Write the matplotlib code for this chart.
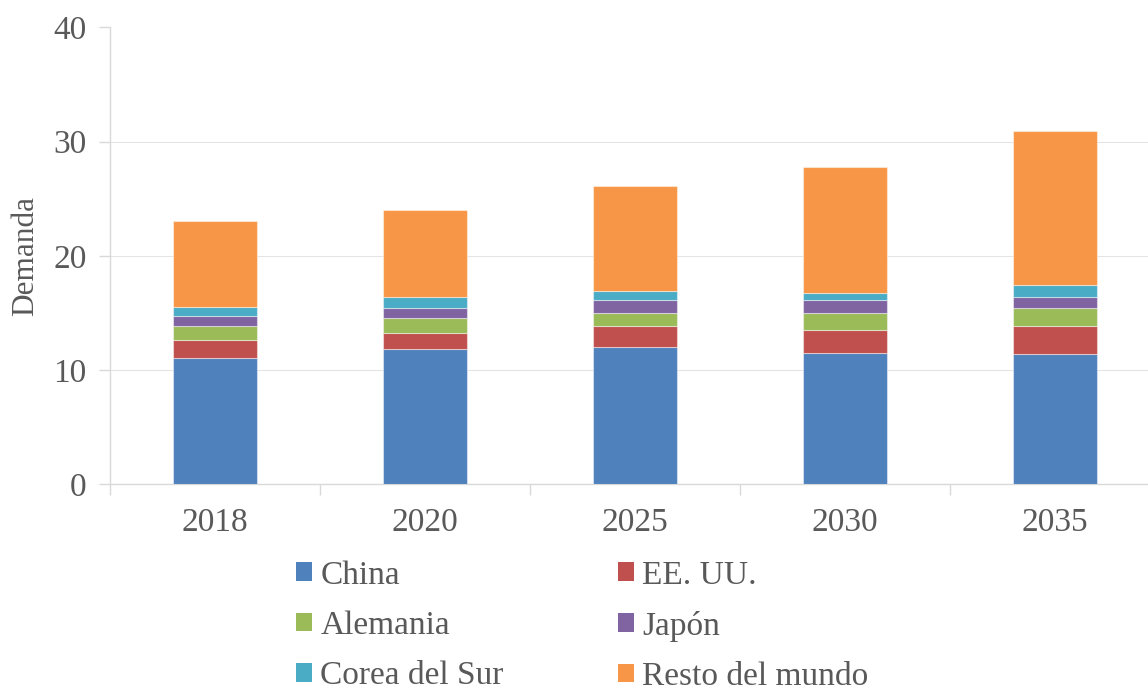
import numpy as np
import matplotlib
matplotlib.use("Agg")
import matplotlib.pyplot as plt
from matplotlib.patches import Patch

# Demand by region and year
years = ["2018", "2020", "2025", "2030", "2035"]
china = [11.0, 11.8, 12.0, 11.45, 11.4]
usa = [1.6, 1.45, 1.85, 2.05, 2.45]
germany = [1.25, 1.3, 1.15, 1.5, 1.6]
japan = [0.85, 0.85, 1.1, 1.1, 0.95]
korea = [0.85, 1.0, 0.8, 0.6, 1.05]
rest = [7.5, 7.6, 9.2, 11.05, 13.5]

series = [
    ("China", china, "#4F81BD"),
    ("EE. UU.", usa, "#C0504D"),
    ("Alemania", germany, "#9BBB59"),
    ("Japón", japan, "#8064A2"),
    ("Corea del Sur", korea, "#4BACC6"),
    ("Resto del mundo", rest, "#F79646"),
]

text_color = "#595959"
line_color = "#D9D9D9"
plt.rcParams["font.family"] = ["Liberation Serif", "DejaVu Serif"]

W, H = 1148, 691
fig = plt.figure(figsize=(W / 100, H / 100), dpi=100)
ax = fig.add_axes([110 / W, 1 - 484 / H, 1050 / W, 456.5 / H])

x = np.arange(len(years))
bottom = np.zeros(len(years))
handles = {}
for name, vals, color in series:
    ax.bar(x, vals, width=0.4, bottom=bottom, color=color,
           edgecolor=(1, 1, 1, 0.45), linewidth=0.8, zorder=3)
    bottom += np.array(vals)
    handles[name] = Patch(facecolor=color, edgecolor="none")

ax.set_xlim(-0.5, len(years) - 0.5)
ax.set_ylim(0, 40)
ax.set_yticks([0, 10, 20, 30, 40])
ax.yaxis.grid(True, color="#E4E4E4", linewidth=0.75, zorder=0)

ax.set_xticks(x)
ax.set_xticklabels(years)
ax.set_xticks(np.arange(-0.5, len(years)), minor=True)
ax.tick_params(axis="x", which="major", length=0, pad=17,
               labelsize=24, labelcolor=text_color)
ax.tick_params(axis="x", which="minor", length=8, width=1.0, color=line_color)
ax.tick_params(axis="y", length=8, width=1.0, color=line_color, pad=9,
               labelsize=24, labelcolor=text_color)

for side in ["top", "right"]:
    ax.spines[side].set_visible(False)
for side in ["left", "bottom"]:
    ax.spines[side].set_color(line_color)
    ax.spines[side].set_linewidth(1.0)

ax.set_ylabel("Demanda", fontsize=22.5, color=text_color)
ax.yaxis.set_label_coords((40 - 110) / 1050, 0.5)

# legend filled column-first, so reorder to read across rows
order = ["China", "Alemania", "Corea del Sur", "EE. UU.", "Japón", "Resto del mundo"]
fig.legend([handles[n] for n in order], order, ncol=2, frameon=False,
           loc="upper left", bbox_to_anchor=(296 / W, 1 - 560 / H),
           fontsize=24, labelcolor=text_color,
           handlelength=0.48, handleheight=0.48, handletextpad=0.25,
           columnspacing=3.42, labelspacing=0.6, borderpad=0, borderaxespad=0)

fig.savefig("out.png", dpi=100)
